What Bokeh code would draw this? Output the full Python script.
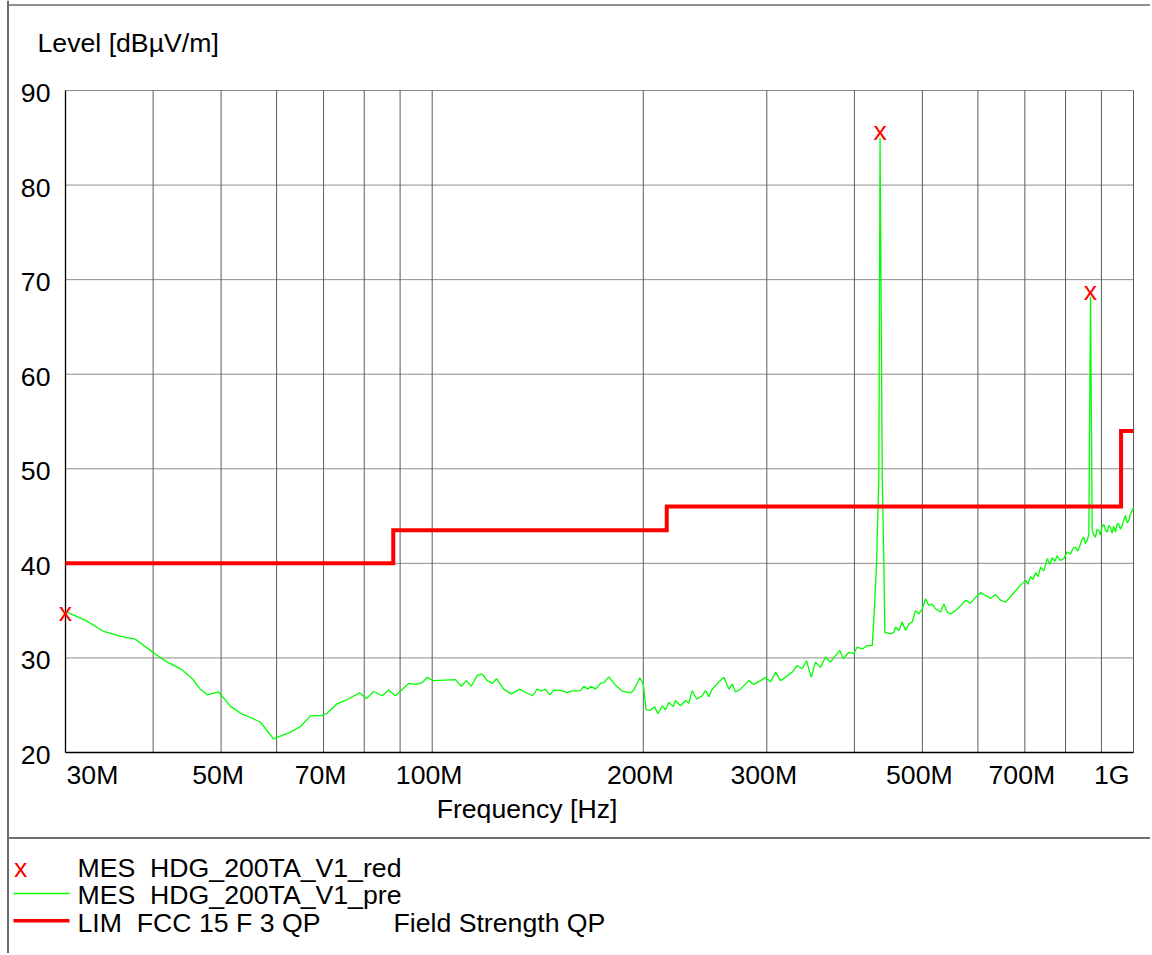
from math import log10
from bokeh.plotting import figure
from bokeh.models import Range1d
from bokeh.core.properties import value
from bokeh.embed import file_html
from bokeh.resources import INLINE

# ---------------- data ----------------
freq_mhz = [30.0, 32.0, 34.0, 35.9, 37.7, 38.8, 40.5, 41.9, 43.8, 45.5, 46.7, 47.8, 49.6, 51.6, 53.6, 55.1,
            56.9, 59.4, 62.8, 64.9, 67.1, 69.7, 70.8, 73.2, 75.6, 78.8, 80.6, 82.5, 84.9, 86.7, 88.6, 92.6,
            94.7, 96.8, 98.4, 100.3, 107.9, 110.0, 111.9, 113.7, 115.9, 117.8, 119.8, 121.8, 123.5, 126.5,
            129.6, 133.3, 135.4, 139.1, 141.1, 143.0, 145.0, 147.1, 149.1, 153.2, 155.8, 157.4, 162.7, 164.5,
            166.7, 168.5, 171.0, 173.8, 175.7, 178.6, 182.6, 186.6, 191.8, 193.9, 197.7, 199.9, 201.9, 204.3,
            207.5, 209.8, 212.8, 215.1, 217.5, 220.7, 222.3, 226.0, 229.7, 232.2, 234.8, 238.2, 242.7, 245.3,
            248.0, 250.8, 256.3, 260.6, 264.9, 267.9, 270.7, 275.2, 282.8, 287.4, 293.9, 298.7, 303.7, 308.7,
            313.8, 319.0, 326.1, 331.5, 337.0, 341.8, 347.1, 352.0, 357.9, 363.8, 369.8, 376.0, 381.3, 385.6,
            392.7, 399.2, 403.7, 410.4, 417.2, 424.1, 427.3, 430.1, 433.4, 435.1, 438.3, 440.6, 442.0, 450.4,
            455.3, 457.8, 462.8, 468.0, 473.1, 478.3, 483.6, 488.9, 494.2, 499.8, 505.2, 510.7, 516.4, 522.1,
            530.7, 536.5, 542.5, 548.4, 557.5, 566.7, 576.1, 585.6, 595.3, 605.2, 615.2, 625.4, 635.8, 646.3,
            657.0, 667.9, 678.9, 690.2, 701.6, 707.0, 713.2, 719.0, 725.0, 731.0, 737.0, 745.0, 753.4, 760.0,
            766.0, 772.0, 778.5, 786.0, 795.6, 804.0, 813.2, 820.0, 826.7, 833.0, 840.4, 845.0, 849.5, 854.0,
            859.1, 863.6, 868.4, 873.3, 878.0, 882.8, 887.0, 892.4, 897.0, 902.0, 907.2, 912.0, 917.4, 922.0,
            927.4, 932.0, 937.0, 942.7, 948.0, 953.0, 958.0, 963.7, 969.0, 974.2, 979.0, 984.7, 990.0, 995.8,
            1000.0]
level_pre = [34.9, 34.0, 32.8, 32.3, 32.0, 31.3, 30.3, 29.55, 28.85, 27.8, 26.7, 26.1, 26.4, 24.85, 24.05, 23.7,
             23.2, 21.45, 22.15, 22.75, 23.9, 23.9, 24.15, 25.15, 25.6, 26.3, 25.7, 26.45, 26.0, 26.6, 26.0, 27.3,
             27.2, 27.4, 27.95, 27.6, 27.7, 27.0, 27.6, 27.0, 28.15, 28.3, 27.6, 27.3, 27.8, 26.7,
             26.2, 26.7, 26.4, 26.0, 26.7, 26.5, 26.7, 26.1, 26.6, 26.55, 26.3, 26.5, 26.55, 27.0,
             26.7, 27.0, 26.7, 27.3, 27.4, 28.0, 27.1, 26.5, 26.3, 26.6, 27.9, 27.25, 24.5, 24.45,
             24.85, 24.1, 24.95, 24.5, 25.3, 24.85, 25.5, 24.95, 25.5, 25.2, 26.55, 25.65, 26.0, 26.55,
             25.9, 26.7, 27.45, 27.95, 26.7, 27.25, 26.4, 26.7, 27.6, 27.2, 27.6, 27.95, 27.45, 28.5,
             27.6, 27.95, 28.5, 29.2, 28.85, 29.7, 27.95, 29.55, 29.0, 30.1, 29.55, 30.25, 30.8, 29.9,
             30.6, 30.45, 31.15, 30.95, 31.3, 31.3, 35.4, 40.0, 49.0, 85.0, 49.0, 40.0, 32.7, 32.55,
             32.7, 33.25, 32.9, 33.8, 32.9, 33.6, 33.8, 35.0, 34.65, 35.2, 36.25, 35.55, 35.7, 35.2,
             34.85, 35.7, 34.85, 34.65, 35.0, 35.5, 36.1, 35.8, 36.4, 36.9, 36.6, 36.3, 36.7, 36.1,
             35.9, 36.5, 37.1, 37.7, 38.2, 37.8, 38.6, 38.3, 39.0, 38.6, 39.6, 39.2, 40.5, 39.9,
             40.6, 40.2, 40.8, 40.3, 40.5, 41.2, 41.0, 41.6, 41.7, 41.3, 42.05, 42.6, 42.75, 42.1,
             42.4, 43.1, 68.2, 43.45, 43.0, 42.75, 43.6, 43.45, 43.0, 43.9, 44.15, 43.5, 43.3, 44.0,
             43.8, 43.2, 43.9, 43.3, 44.2, 44.15, 43.6, 44.0, 44.6, 45.05, 44.3, 44.5, 45.2, 45.6,
             45.9]

mark_freq = [30.0, 435.1, 868.4]
mark_level = [34.5, 85.4, 68.5]
mark_text = ["x", "x", "x"]

lim_freq = [30.0, 88.0, 216.0, 960.0, 1000.0]
lim_level = [40.0, 43.5, 46.0, 54.0, 54.0]

y_ticks = [20, 30, 40, 50, 60, 70, 80, 90]
y_tick_labels = ["20", "30", "40", "50", "60", "70", "80", "90"]
x_grid_ticks = [30, 40, 50, 60, 70, 80, 90, 100, 200, 300, 400, 500, 600, 700, 800, 900, 1000]
x_label_ticks = [30, 50, 70, 100, 200, 300, 500, 700, 1000]
x_tick_labels = ["30M", "50M", "70M", "100M", "200M", "300M", "500M", "700M", "1G"]

y_title = "Level [dBµV/m]"
x_title = "Frequency [Hz]"
legend_texts = ["MES \u00a0HDG_200TA_V1_red", "MES \u00a0HDG_200TA_V1_pre", "LIM \u00a0FCC 15 F 3 QP"]
legend_extra = "Field Strength QP"

# ---------------- layout (page pixels) ----------------
FONT = value("Liberation Sans")
FS = value("20pt")
W, H = 1150, 953
FL, FR, FT, FB = 65, 1133, 90, 752   # plot box edges on the page
XMIN, XMAX, YMIN, YMAX = 30.0, 1000.0, 20.0, 90.0
PXY = (YMAX - YMIN) / (FB - FT)      # data units per pixel (vertical)
TY = 10                               # text baseline correction (px)


def fx(px):
    return XMIN * 10 ** ((px - FL) / (FR - FL) * log10(XMAX / XMIN))


def ly(py):
    return YMIN + (FB - py) * PXY


p = figure(width=W, height=H, x_axis_type="log",
           x_range=Range1d(fx(0), fx(W)), y_range=Range1d(ly(H), ly(0)),
           x_axis_location=None, y_axis_location=None,
           output_backend="svg", toolbar_location=None,
           min_border=0, min_border_left=0, min_border_right=0,
           min_border_top=0, min_border_bottom=0)
p.center = []
p.background_fill_color = "white"
p.border_fill_color = "white"
p.outline_line_color = None

# grid lines (from the tick arrays)
nx, ny = len(x_grid_ticks), len(y_ticks)
p.segment(x0=[XMIN] * ny, y0=y_ticks, x1=[XMAX] * ny, y1=y_ticks,
          line_color="#8c8c8c", line_width=1)
p.segment(x0=x_grid_ticks, y0=[YMIN] * nx, x1=x_grid_ticks, y1=[YMAX] * nx,
          line_color="#5c5c5c", line_width=1)
# axis lines
p.segment(x0=[XMIN, XMIN], y0=[YMIN, YMIN], x1=[XMIN, XMAX], y1=[YMAX, YMIN],
          line_color="black", line_width=1.3)

# data
p.line(freq_mhz, level_pre, line_color="#00ff00", line_width=1.3)
p.step(lim_freq, lim_level, mode="after", line_color="#ff0000", line_width=4, line_join="miter")
p.text(x=mark_freq, y=[v - (7 - TY) * PXY for v in mark_level], text=mark_text,
       text_align="center", text_baseline="alphabetic", text_color="#ff0000",
       text_font=FONT, text_font_size=FS)

# tick labels
p.text(x=[fx(50)] * ny, y=[t - (12.5 - TY) * PXY for t in y_ticks], text=y_tick_labels,
       text_align="right", text_baseline="alphabetic", text_color="black",
       text_font=FONT, text_font_size=FS)
x_align = ["left"] + ["center"] * (len(x_label_ticks) - 2) + ["right"]
x_off = [1] + [-3] * (len(x_label_ticks) - 2) + [-4]
p.text(x=x_label_ticks, y=[ly(784 - TY)] * len(x_label_ticks), text=x_tick_labels,
       text_align=x_align, x_offset=x_off, text_baseline="alphabetic", text_color="black",
       text_font=FONT, text_font_size=FS)


def txt(t, px, py, align="left", color="black"):
    p.text(x=[fx(px)], y=[ly(py - TY)], text=[t], text_align=align, text_baseline="alphabetic",
           text_color=color, text_font=FONT, text_font_size=FS)


def seg(px0, py0, px1, py1, color, width):
    p.segment(x0=[fx(px0)], y0=[ly(py0)], x1=[fx(px1)], y1=[ly(py1)],
              line_color=color, line_width=width)


# picture border and separator
seg(7.5, 0, 7.5, H, "#6a6a6a", 2)
seg(7, 4.5, W, 4.5, "#6a6a6a", 1.5)
seg(7, 837.5, W, 837.5, "#707070", 2)

# titles
txt(y_title, 37, 52)
txt(x_title, 526.5, 818.5, align="center")

# legend
txt("x", 13.5, 877, color="#ff0000")
seg(13, 893, 69, 893, "#00ff00", 1.5)
seg(13, 920.3, 69, 920.3, "#ff0000", 3.5)
for t, base in zip(legend_texts, [877, 904.5, 932]):
    txt(t, 77, base)
txt(legend_extra, 393, 932)

open("out.html", "w").write(file_html(p, INLINE))
